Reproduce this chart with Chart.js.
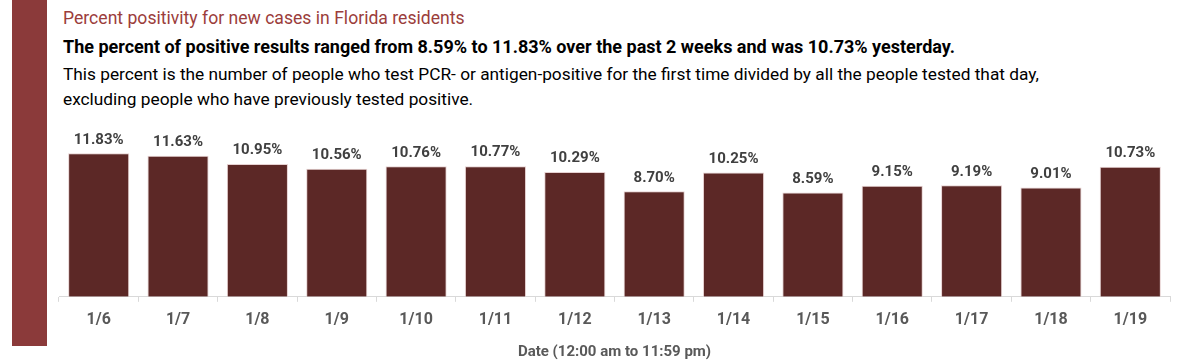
<!DOCTYPE html>
<html>
<head>
<meta charset="utf-8">
<script src="https://cdn.jsdelivr.net/npm/chart.js@4"></script>
<style>
  html, body { margin: 0; padding: 0; background: #fff; }
  body { width: 1200px; height: 361px; position: relative; overflow: hidden; font-family: "Roboto", sans-serif; }
  #sidebar { position: absolute; left: 12px; top: 0; width: 35px; height: 346px; background: #8B3A3A; }
  .t { position: absolute; left: 63px; white-space: nowrap; }
  #title { top: 8px; font-size: 17.6px; color: #9B3D3B; }
  #sub { top: 36px; font-size: 18px; font-weight: bold; color: #000; }
  #l1 { top: 64px; font-size: 17.3px; color: #000; }
  #l2 { top: 89px; font-size: 17.3px; color: #000; }
  #wrap { position: absolute; left: 0; top: 110px; width: 1200px; height: 251px; }
</style>
</head>
<body>
<div id="sidebar"></div>
<div class="t" id="title">Percent positivity for new cases in Florida residents</div>
<div class="t" id="sub">The percent of positive results ranged from 8.59% to 11.83% over the past 2 weeks and was 10.73% yesterday.</div>
<div class="t" id="l1">This percent is the number of people who test PCR- or antigen-positive for the first time divided by all the people tested that day,</div>
<div class="t" id="l2">excluding people who have previously tested positive.</div>
<div id="wrap"><canvas id="c"></canvas></div>
<script>
const categories = ["1/6","1/7","1/8","1/9","1/10","1/11","1/12","1/13","1/14","1/15","1/16","1/17","1/18","1/19"];
const positivity = [11.83, 11.63, 10.95, 10.56, 10.76, 10.77, 10.29, 8.70, 10.25, 8.59, 9.15, 9.19, 9.01, 10.73];
const xAxisTitle = "Date (12:00 am to 11:59 pm)";

const FONT = '"Roboto", sans-serif';

const valueLabels = {
  id: 'valueLabels',
  afterDatasetsDraw(chart) {
    const ctx = chart.ctx;
    const meta = chart.getDatasetMeta(0);
    ctx.save();
    ctx.font = 'bold 15px ' + FONT;
    ctx.fillStyle = '#404040';
    ctx.textAlign = 'center';
    ctx.textBaseline = 'bottom';
    meta.data.forEach((bar, i) => {
      ctx.fillText(positivity[i].toFixed(2) + '%', bar.x, bar.y - 6);
    });
    ctx.restore();
  }
};

new Chart(document.getElementById('c'), {
  type: 'bar',
  data: {
    labels: categories,
    datasets: [{
      data: positivity,
      backgroundColor: '#5C2826',
      borderColor: 'rgba(220,190,190,0.7)',
      borderWidth: 1,
      categoryPercentage: 0.77,
      barPercentage: 1.0
    }]
  },
  options: {
    responsive: true,
    maintainAspectRatio: false,
    animation: false,
    layout: { padding: { left: 59, right: 30, top: 17, bottom: 0 } },
    plugins: { legend: { display: false }, tooltip: { enabled: false } },
    scales: {
      y: { display: false, min: 0, max: 14 },
      x: {
        offset: true,
        grid: { offset: true, drawOnChartArea: false, drawTicks: true, tickLength: 5, color: '#d9d9d9' },
        border: { display: true, color: '#d9d9d9' },
        ticks: { color: '#595959', font: { family: FONT, size: 16, weight: 'bold' }, padding: 9 },
        title: { display: true, text: xAxisTitle, color: '#595959', font: { family: FONT, size: 15, weight: 'bold' }, padding: { top: 4, bottom: 0 } }
      }
    }
  },
  plugins: [valueLabels]
});
</script>
</body>
</html>
